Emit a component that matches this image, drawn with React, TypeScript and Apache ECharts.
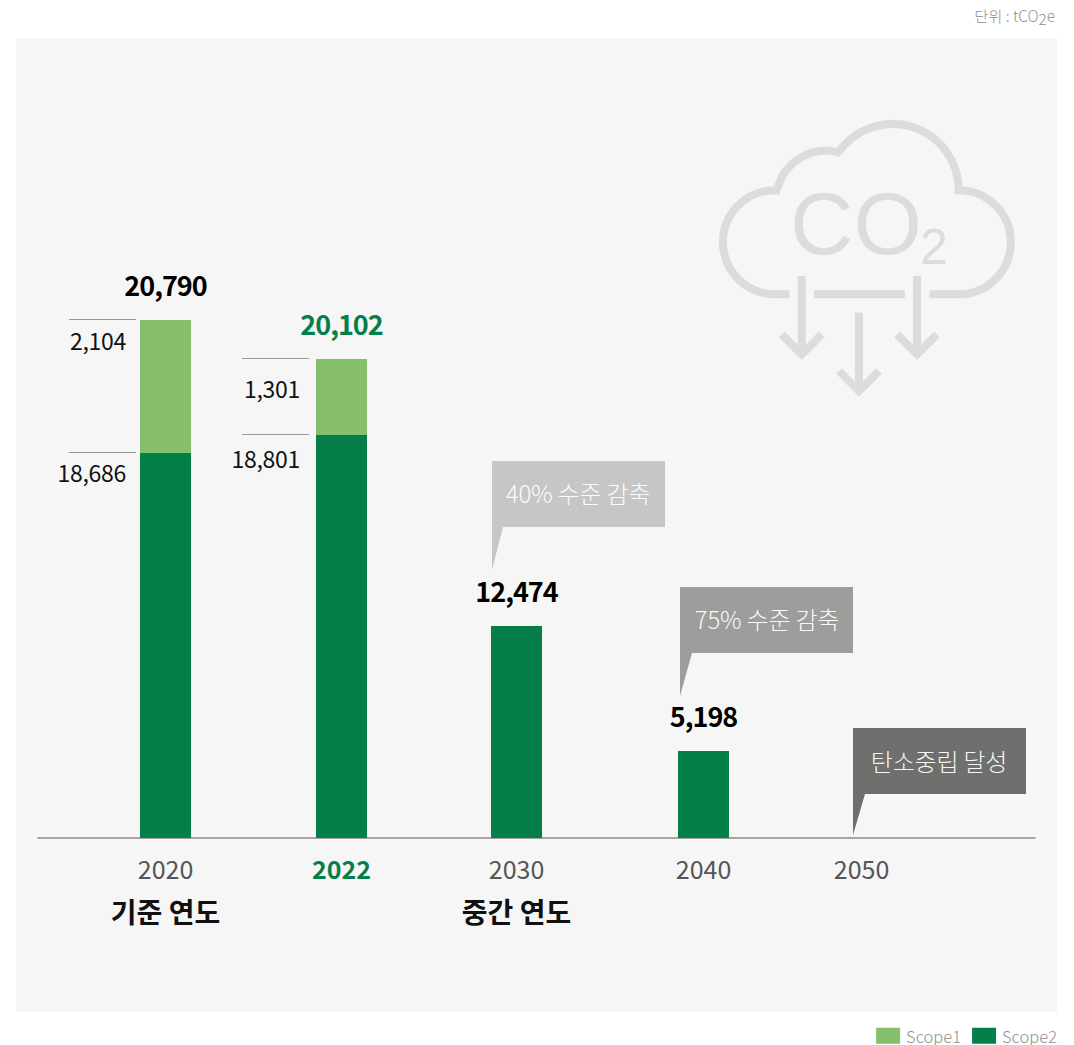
import React, { useEffect, useRef } from "react";
import * as echarts from "echarts";

// Printed figures, as they read in the picture.
const years = ["2020", "2022", "2030", "2040", "2050"];
const yearNotes = ["기준 연도", "", "중간 연도", "", ""];
const totals = ["20,790", "20,102", "12,474", "5,198", ""];
const scope1Printed = ["2,104", "1,301"];
const scope2Printed = ["18,686", "18,801"];
// The reference's bars are not drawn to the scale of their printed figures,
// so the bar lengths are read separately from the picture (axis unit = 1px of bar).
const scope1Drawn = [133, 76, 0, 0, 0];
const scope2Drawn = [385, 403, 212, 87, 0];
// The columns are unevenly spaced in the reference: distance from the first one.
const columnOffsets = [0, 176, 351, 538, 696];
const legendNames = ["Scope1", "Scope2"];
const calloutTexts = ["40% 수준 감축", "75% 수준 감축", "탄소중립 달성"];

const GREEN = "#047F4A";
const LIGHT = "#86BF6B";
const PANEL = "#F6F6F6";
const ICON = "#DCDCDC";
const FONT = '"Noto Sans CJK KR", "Noto Sans", sans-serif';

echarts.graphic.registerShape(
  "co2Cloud",
  echarts.graphic.extendPath(
    "M789.3 294.3 L775 294.3 A52 52 0 0 1 775 190.2 L780 190.2 " +
      "M777.5 189 A50 50 0 0 1 841 153 M838.5 152.3 A66 66 0 0 1 958.7 190.2 " +
      "A52 52 0 0 1 958.7 294.3 L929.3 294.3 M814 294.3 L904.7 294.3 " +
      "M801.7 276 L801.7 353 M781.7 334.3 L801.7 354.3 L821.7 334.3 " +
      "M859 312.7 L859 390 M839 371 L859 391 L879 371 " +
      "M917 276 L917 353 M897 334.3 L917 354.3 L937 334.3",
    {}
  )
);

function callout(points: number[][], color: string, text: string, cx: number, cy: number) {
  return [
    { type: "polygon", z: 1, shape: { points }, style: { fill: color } },
    {
      type: "text",
      z: 2,
      x: cx,
      y: cy,
      style: { text, fill: "#FFFFFF", font: `300 24px ${FONT}`, align: "center", verticalAlign: "middle", opacity: 0.95 },
    },
  ];
}

export default function App() {
  const ref = useRef<HTMLDivElement>(null);
  useEffect(() => {
    const chart = echarts.init(ref.current!, undefined, { renderer: "svg" });
    // value first: ECharts stacks on the first numeric dimension
    const pairs = (vals: number[]) => vals.map((v, i) => [v, columnOffsets[i]]);
    const topOf = (i: number) => scope1Drawn[i] + scope2Drawn[i];
    const leaderGap = [4, 7];
    const textGap = [14, 16];
    const scope1Dy = [20, 29];
    const scope2Dy = [19, 23];

    const leader = (params: any, api: any, printed: string[], dy: number[]) => {
      const i = params.dataIndex;
      const p = api.coord([api.value(0), api.value(1)]);
      const barLeft = p[0] - 25.5;
      const right = barLeft - leaderGap[i];
      return {
        type: "group",
        children: [
          {
            type: "line",
            shape: { x1: right - 67, y1: p[1] - 0.5, x2: right, y2: p[1] - 0.5 },
            style: { stroke: "#9A9A9A", lineWidth: 1 },
          },
          {
            type: "text",
            x: barLeft - textGap[i],
            y: p[1] + dy[i],
            style: { text: printed[i], fill: "#111111", font: `400 23px ${FONT}`, align: "right", verticalAlign: "middle" },
          },
        ],
      };
    };

    chart.setOption({
      animation: false,
      backgroundColor: "#FFFFFF",
      grid: { left: 38, right: 39, top: 38, bottom: 207 },
      xAxis: {
        type: "value",
        min: -127.5,
        max: 869.5,
        splitLine: { show: false },
        axisTick: { show: false },
        axisLine: { show: true, onZero: true, lineStyle: { color: "#8A8A8A", width: 1.5 } },
        axisLabel: {
          customValues: columnOffsets,
          margin: 8,
          interval: 0,
          hideOverlap: false,
          showMinLabel: true,
          showMaxLabel: true,
          verticalAlign: "top",
          formatter: (value: number) => {
            const i = columnOffsets.indexOf(value);
            const yearStyle = years[i] === "2022" ? "g" : "y";
            return yearNotes[i] ? `{${yearStyle}|${years[i]}}\n{n|${yearNotes[i]}}` : `{${yearStyle}|${years[i]}}`;
          },
          rich: {
            y: { fontFamily: FONT, fontSize: 25, color: "#555555", lineHeight: 43 },
            g: { fontFamily: FONT, fontSize: 25, fontWeight: 700, color: GREEN, lineHeight: 43 },
            n: { fontFamily: FONT, fontSize: 28, fontWeight: 700, color: "#111111", lineHeight: 43 },
          },
        },
      },
      yAxis: { type: "value", min: 0, max: 800, show: false, splitLine: { show: false } },
      legend: {
        data: legendNames,
        right: 17,
        top: 1027.5,
        padding: 0,
        itemWidth: 24,
        itemHeight: 16,
        itemGap: 11,
        icon: "rect",
        selectedMode: false,
        textStyle: { fontFamily: FONT, fontSize: 16.5, lineHeight: 14, fontWeight: 300, color: "#8F8F8F", padding: [0, 0, 0, 1] },
      },
      series: [
        { name: "Scope2", type: "bar", stack: "t", barWidth: 51, encode: { x: 1, y: 0 }, data: pairs(scope2Drawn), itemStyle: { color: GREEN } },
        { name: "Scope1", type: "bar", stack: "t", barWidth: 51, encode: { x: 1, y: 0 }, data: pairs(scope1Drawn), itemStyle: { color: LIGHT } },
        {
          name: "totals",
          type: "custom",
          coordinateSystem: "cartesian2d",
          encode: { x: 0, y: 1 },
          data: columnOffsets.map((x, i) => [x, topOf(i)]).slice(0, 4),
          renderItem: (params: any, api: any) => {
            const i = params.dataIndex;
            const p = api.coord([api.value(0), api.value(1)]);
            return {
              type: "text",
              x: p[0],
              y: p[1] - 36,
              style: {
                text: totals[i],
                fill: years[i] === "2022" ? GREEN : "#000000",
                font: `700 27px ${FONT}`,
                align: "center",
                verticalAlign: "middle",
              },
            };
          },
          z: 5,
        },
        {
          name: "scope1Leaders",
          type: "custom",
          coordinateSystem: "cartesian2d",
          encode: { x: 0, y: 1 },
          data: [0, 1].map((i) => [columnOffsets[i], topOf(i)]),
          renderItem: (params: any, api: any) => leader(params, api, scope1Printed, scope1Dy),
          z: 5,
        },
        {
          name: "scope2Leaders",
          type: "custom",
          coordinateSystem: "cartesian2d",
          encode: { x: 0, y: 1 },
          data: [0, 1].map((i) => [columnOffsets[i], scope2Drawn[i]]),
          renderItem: (params: any, api: any) => leader(params, api, scope2Printed, scope2Dy),
          z: 5,
        },
      ],
      graphic: {
        elements: [
          { type: "rect", z: -10, silent: true, shape: { x: 16, y: 38, width: 1041, height: 974 }, style: { fill: PANEL } },
          {
            type: "text",
            right: 19,
            top: 7,
            style: {
              rich: {
                a: { fontFamily: FONT, fontSize: 15.3, fontWeight: 300, color: "#8F8F8F" } as any,
                s: { fontFamily: FONT, fontSize: 15.3, fontWeight: 300, color: "#8F8F8F", padding: [7, 0, 0, 0] } as any,
              },
              text: "{a|단위 : tCO}{s|2}{a|e}",
              font: `300 15px ${FONT}`,
              fill: "#8F8F8F",
            },
          },
          {
            type: "co2Cloud",
            z: 1,
            silent: true,
            style: { fill: "none", stroke: ICON, lineWidth: 8, lineCap: "butt", lineJoin: "miter" },
          },
          {
            type: "text",
            z: 1,
            x: 790,
            y: 223,
            style: { text: "CO", fill: ICON, font: '300 88px "Liberation Sans"', verticalAlign: "middle" },
          },
          {
            type: "text",
            z: 1,
            x: 920,
            y: 247,
            style: { text: "2", fill: ICON, font: '300 50px "Liberation Sans"', verticalAlign: "middle" },
          },
          ...callout([[492, 461], [665, 461], [665, 527], [503, 527], [492, 570]], "#C6C6C6", calloutTexts[0], 578, 492),
          ...callout([[680, 587], [853, 587], [853, 653], [692, 653], [680, 696]], "#9D9D9C", calloutTexts[1], 767, 618),
          ...callout([[853, 728], [1026, 728], [1026, 794], [865, 794], [853, 835]], "#6F6F6E", calloutTexts[2], 939, 760),
        ],
      },
    });
    return () => chart.dispose();
  }, []);
  return (
    <>
      <style>{`
        svg text[style*="700 27px"] { letter-spacing: -1px; }
        svg text[style*="300 24px"] { letter-spacing: -0.2px; }
        svg text[style*="400 23px"] { letter-spacing: -0.3px; }
      `}</style>
      <div ref={ref} style={{ position: "absolute", left: 0, top: 0, width: 1074, height: 1045 }} />
    </>
  );
}
